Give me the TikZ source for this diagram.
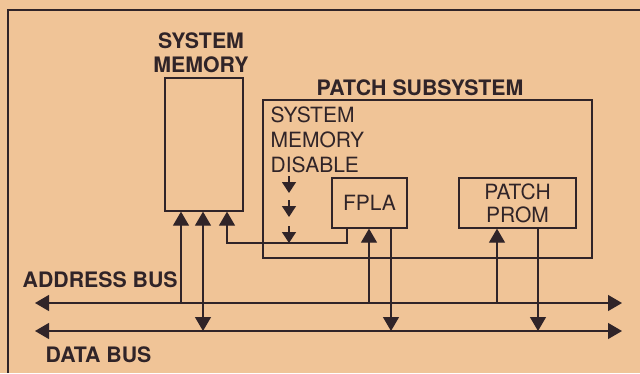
\documentclass[tikz,border=0pt]{standalone}
\usepackage{fontspec}
\setmainfont{TeX Gyre Heros}
\usetikzlibrary{arrows.meta, positioning}
\definecolor{paper}{RGB}{240,196,151}
\definecolor{ink}{RGB}{48,36,40}

\begin{document}
\begin{tikzpicture}[x=1pt, y=-1pt, line width=1.3pt, draw=ink, text=ink,
  box/.style={draw=ink, line width=1.3pt, inner sep=0pt, font=\fontsize{21}{23}\selectfont, align=center},
  title/.style={inner sep=0pt, font=\bfseries\fontsize{21.3}{24}\selectfont},
  lbl/.style={inner sep=0pt, font=\fontsize{21}{25}\selectfont},
  tobig/.style={-{Triangle[length=14pt, width=16pt]}},
  bothbig/.style={{Triangle[length=14pt, width=16pt]}-{Triangle[length=14pt, width=16pt]}},
  tosmall/.style={-{Triangle[length=11pt, width=14pt]}}]

\useasboundingbox (0,0) rectangle (640,373);
\fill[paper] (0,0) rectangle (640,373);

% ramka
\draw[ink, line width=1.8pt] (8,373) -- (8,10) -- (640,10);

% bloki
\node[box, minimum width=78, minimum height=133] (mem) at (204,144.5) {};
\node[box, minimum width=329, minimum height=158] (patch) at (427.5,179) {};
\node[box, minimum width=75, minimum height=50] (fpla) at (369.5,203) {FPLA};
\node[box, minimum width=117, minimum height=50] (prom) at (517.5,203) {PATCH\\PROM};

% napisy
\node[title, anchor=base] (memT1) at (201,48) {SYSTEM};
\node[title, anchor=base] (memT2) at (201,72) {MEMORY};
\node[title, anchor=base west] (patchT) at (316,95) {PATCH SUBSYSTEM};
\foreach \t [count=\i] in {SYSTEM, MEMORY, DISABLE} {
  \node[lbl, anchor=base west] (dis\i) at (270,{97+25*\i}) {\t};
}
\node[title, anchor=base west] (abT) at (22,287) {ADDRESS BUS};
\node[title, anchor=base west] (dbT) at (45,362) {DATA BUS};

% magistrale
\coordinate (abL) at (35,303);
\coordinate (abR) at (622,303);
\coordinate (dbL) at (35,331);
\coordinate (dbR) at (622,331);
\draw[bothbig] (abL) -- (abR);
\draw[bothbig] (dbL) -- (dbR);

% adres -> blok
\foreach \x/\b in {181/mem, 369/fpla, 497/prom} {
  \draw[tobig] (\x,0 |- abL) -- (\x,0 |- \b.south);
}
% blok -> dane
\foreach \x/\b in {391/fpla, 538/prom} {
  \draw[tobig] (\x,0 |- \b.south) -- (\x,0 |- dbL);
}
\draw[bothbig] (203,0 |- mem.south) -- (203,0 |- dbL);

% FPLA -> pamiec (disable)
\coordinate (bend) at (227,243);
\draw[tobig] (347,0 |- fpla.south) |- (bend) -- (227,0 |- mem.south);
\foreach \y in {176, 200, 226} {
  \draw[tosmall] (289,\y) -- ++(0,17);
}
\end{tikzpicture}
\end{document}
